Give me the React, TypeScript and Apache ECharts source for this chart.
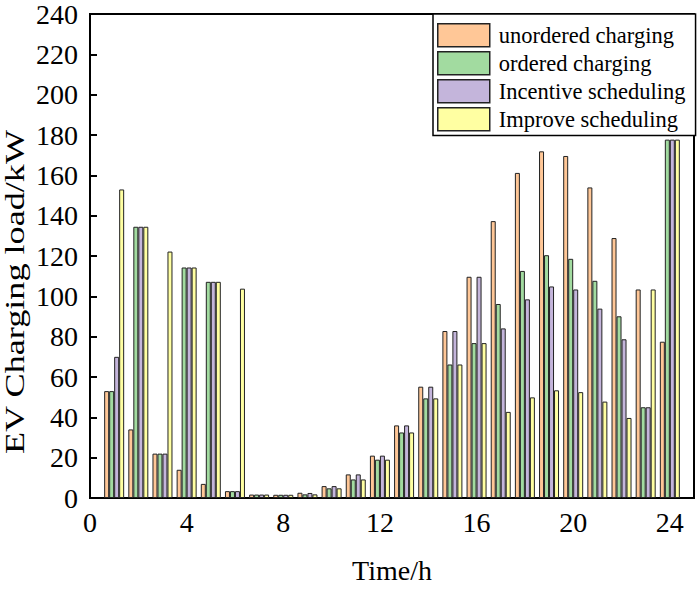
import React, { useEffect, useRef } from "react";
import * as echarts from "echarts";

const hours = [1, 2, 3, 4, 5, 6, 7, 8, 9, 10, 11, 12, 13, 14, 15, 16, 17, 18, 19, 20, 21, 22, 23, 24];
const unordered = [53, 34, 22, 14, 7, 3.4, 1.7, 1.6, 2.6, 5.9, 11.7, 21, 36, 55.2, 82.8, 109.7, 137.3, 161.2, 171.9, 169.6, 154, 128.9, 103.4, 77.5];
const ordered = [53, 134.5, 22, 114.3, 107.2, 3.4, 1.7, 1.6, 1.8, 4.8, 9.2, 19, 32.5, 49.4, 66.2, 76.8, 96.2, 112.6, 120.4, 118.6, 107.7, 90.1, 45, 177.7];
const incentive = [70, 134.5, 22, 114.3, 107.2, 3.4, 1.7, 1.6, 2.5, 5.9, 11.7, 21, 36, 55.2, 82.8, 109.7, 84.1, 98.5, 104.9, 103.4, 93.9, 78.7, 45, 177.7];
const improve = [153, 134.5, 122.2, 114.3, 107.2, 103.8, 1.7, 1.6, 1.8, 4.8, 9.2, 19, 32.5, 49.4, 66.2, 76.8, 42.7, 49.9, 53.4, 52.5, 47.8, 39.7, 103.4, 177.7];

const seriesNames = ["unordered charging", "ordered charging", "Incentive scheduling", "Improve scheduling"];
const seriesColors = ["#FFC797", "#A2DBA0", "#C4B5DB", "#FFFFA2"];
const seriesValues = [unordered, ordered, incentive, improve];

const FONT = "Liberation Serif, Times New Roman, serif";

export default function App() {
  const ref = useRef<HTMLDivElement>(null);
  useEffect(() => {
    if (!ref.current) return;
    const chart = echarts.init(ref.current, null, { renderer: "svg" });
    chart.setOption({
      animation: false,
      backgroundColor: "#fff",
      grid: {
        left: 90,
        top: 14,
        right: 5,
        bottom: 86,
        show: true,
        borderColor: "#000",
        borderWidth: 2,
        backgroundColor: "transparent",
      },
      legend: {
        orient: "vertical",
        left: 433,
        top: 14,
        itemWidth: 52,
        itemHeight: 23,
        itemGap: 3.5,
        padding: [9, 10, 4, 4],
        borderColor: "#000",
        borderWidth: 1.5,
        backgroundColor: "#fff",
        icon: "rect",
        itemStyle: { borderColor: "#222", borderWidth: 1.5 },
        textStyle: { fontSize: 22.5, lineHeight: 22, fontFamily: FONT, color: "#000", padding: [0, 0, 0, 4] },
        data: seriesNames,
      },
      xAxis: {
        type: "value",
        min: 0,
        max: 25,
        interval: 4,
        name: "Time/h",
        nameLocation: "middle",
        nameGap: 58,
        nameTextStyle: { fontSize: 28, fontFamily: FONT, color: "#000", verticalAlign: "top" },
        axisLine: { show: true, lineStyle: { color: "#000", width: 2 } },
        axisTick: { show: false },
        axisLabel: {
          fontSize: 28,
          fontFamily: FONT,
          color: "#000",
          margin: 10,
          showMaxLabel: false,
        },
        splitLine: { show: false },
      },
      yAxis: {
        type: "value",
        min: 0,
        max: 240,
        interval: 20,
        axisLine: { show: true, lineStyle: { color: "#000", width: 2 } },
        axisTick: { show: true, inside: true, length: 7, lineStyle: { color: "#000", width: 2 } },
        axisLabel: { fontSize: 28, fontFamily: FONT, color: "#000", margin: 12 },
        splitLine: { show: false },
      },
      graphic: [
        {
          type: "text",
          x: 15,
          y: 292,
          rotation: Math.PI / 2,
          scaleX: 1.34,
          style: {
            text: "EV Charging load/kW",
            fontSize: 27,
            fontFamily: FONT,
            fill: "#000",
            textAlign: "center",
            textVerticalAlign: "middle",
          },
        },
      ],
      series: seriesNames.map((name, i) => ({
        name,
        type: "bar",
        barWidth: 5,
        barGap: "0%",
        itemStyle: { color: seriesColors[i], borderColor: "#222", borderWidth: 1 },
        data: hours.map((h, j) => [h, seriesValues[i][j]]),
      })),
    });
    return () => chart.dispose();
  }, []);
  return <div ref={ref} style={{ position: "absolute", left: 0, top: 0, width: 699, height: 589 }} />;
}
